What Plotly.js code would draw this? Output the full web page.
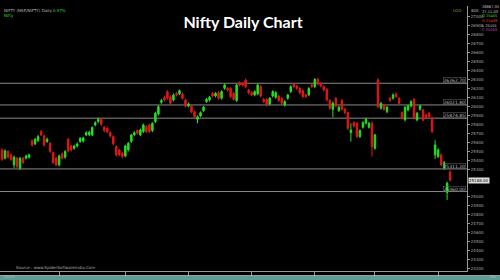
<!DOCTYPE html>
<html><head><meta charset="utf-8">
<script src="https://cdn.plot.ly/plotly-3.0.1.min.js"></script>
<style>html,body{margin:0;padding:0;background:#000}#chart{width:500px;height:280px}</style>
</head><body><div id="chart"></div>
<script>
const openP = [25522,25430,25504,25467,25356,25430,25319,25430,25430,25441,
25622,25589,25626,25726,25677,25615,25596,25492,25430,25356,
25478,25441,25640,25566,25541,25566,25615,25620,25689,25692,
25689,25800,25837,25862,25774,25763,25714,25670,25559,25522,
25485,25455,25522,25615,25689,25737,25689,25726,25781,25800,
25737,25837,25922,26051,26107,26170,26114,26077,26151,26144,
26144,26077,26010,26010,25947,25862,25899,25959,26059,26077,
26151,26121,26158,26096,26206,26206,26206,26151,26070,26269,
26262,26299,26188,26158,26133,26144,26225,26084,26084,26033,
26121,26107,26121,26096,26022,26096,26170,26255,26232,26206,
26181,26133,26133,26243,26225,26306,26262,26225,26195,26070,
25973,26096,25959,26070,25973,25936,25714,25825,25818,25670,
25774,25818,25774,25818,25541,26299,25985,26022,25947,26096,
26096,26144,26096,25936,25855,25966,26010,26084,25855,25973,
25966,25911,25929,25874,25467,25448,25467,25319,25049,25277];
const closeP = [25418,25511,25441,25418,25441,25337,25430,25381,25455,25467,
25578,25640,25670,25689,25578,25640,25504,25381,25356,25455,
25430,25504,25511,25522,25566,25589,25652,25655,25714,25718,
25770,25825,25862,25807,25737,25726,25677,25589,25467,25467,
25448,25566,25596,25689,25714,25707,25744,25800,25726,25726,
25818,25929,26003,26070,26077,26096,26040,26133,26133,26181,
26096,26010,26033,25947,25892,25892,25936,25996,26084,26107,
26121,26151,26096,26170,26243,26188,26114,26084,26243,26243,
26243,26225,26158,26133,26170,26243,26121,26059,26022,26096,
26170,26158,26070,26040,26059,26133,26225,26225,26206,26158,
26114,26114,26206,26225,26306,26255,26232,26188,26077,25985,
26040,26010,25996,25973,25936,25762,25744,25788,25670,25737,
25825,25862,25818,25559,25689,26003,26040,25973,25996,26070,
26133,26114,26040,25874,25996,26010,26059,25874,25929,26010,
25855,25885,25892,25726,25578,25522,25356,25381,25152,25188];
const highP = [25540,25530,25520,25485,25460,25445,25445,25445,25470,25480,
25640,25655,25690,25745,25695,25660,25610,25505,25445,25470,
25495,25520,25655,25580,25580,25605,25665,25670,25730,25735,
25785,25840,25880,25875,25790,25780,25730,25685,25575,25535,
25500,25580,25610,25700,25730,25750,25760,25815,25795,25815,
25830,25945,26020,26090,26125,26185,26130,26150,26165,26195,
26160,26090,26050,26025,25960,25905,25950,26010,26100,26120,
26165,26165,26175,26185,26260,26220,26220,26165,26255,26285,
26275,26315,26200,26175,26185,26260,26240,26100,26095,26110,
26185,26175,26135,26110,26075,26145,26240,26270,26245,26220,
26195,26145,26220,26255,26320,26325,26275,26240,26210,26085,
26060,26110,26010,26090,25990,25950,25818,25840,25835,25750,
25840,25880,25835,25840,25700,26320,26055,26035,26010,26110,
26150,26160,26110,25950,26010,26025,26075,26100,25945,26025,
25980,25925,25945,25890,25630,25540,25485,25400,25170,25295];
const lowP = [25400,25415,25425,25400,25319,25320,25300,25365,25415,25425,
25560,25575,25610,25675,25560,25600,25490,25365,25340,25340,
25415,25425,25495,25505,25525,25550,25600,25605,25675,25675,
25675,25785,25820,25790,25720,25710,25660,25575,25450,25450,
25430,25440,25505,25600,25675,25690,25675,25710,25710,25710,
25720,25820,25905,26035,26060,26080,26025,26060,26115,26130,
26080,25995,25995,25930,25875,25818,25885,25945,26045,26060,
26105,26105,26080,26080,26190,26170,26100,26070,26055,26225,
26228,26210,26140,26118,26118,26130,26105,26045,26005,26018,
26105,26090,26055,26025,26005,26080,26155,26210,26190,26140,
26100,26100,26118,26210,26210,26240,26218,26172,26060,25970,
25885,25995,25945,25958,25920,25745,25615,25770,25655,25655,
25760,25805,25760,25448,25525,25985,25970,25958,25930,26055,
26080,26100,26025,25860,25840,25950,25995,25860,25840,25958,
25840,25870,25878,25710,25420,25430,25340,25300,24967,25170];
const levels = [26262.70, 26021.80, 25874.85, 25311.20, 25060.00];
const levelLabels = ["26262.70", "26021.80", "25874.85", "25311.20", "25060.00"];
const xTickPos = [19, 41, 62, 83, 104, 124, 145];
const xTickText = ["", "", "", "", "", "", ""];
const titleText = "Nifty Daily Chart";
const sourceText = "Source : www.SpiderSoftwareIndia.Com";

const idx = openP.map((_, i) => i);
const last = closeP[closeP.length - 1];
const yTicks = [];
for (let v = 24200; v <= 27000; v += 100) { if (Math.abs(v - last) > 110) yTicks.push(v); }

const trace = {
  type: 'candlestick', x: idx, open: openP, high: highP, low: lowP, close: closeP,
  increasing: {line: {color: '#22e022', width: 1}, fillcolor: '#22e022'},
  decreasing: {line: {color: '#e01818', width: 1}, fillcolor: '#e01818'},
  whiskerwidth: 0, hoverinfo: 'none'
};
const shapes = levels.map(v => ({type: 'line', xref: 'paper', x0: 0, x1: 1, yref: 'y', y0: v, y1: v,
  line: {color: '#8a8a8a', width: 1}, layer: 'below'}));
shapes.push({type: 'rect', xref: 'paper', yref: 'paper', x0: -0.01, x1: 1.08, y0: -0.0175, y1: -0.0155,
  fillcolor: '#d0d0d0', line: {width: 0}});
shapes.push({type: 'rect', xref: 'paper', yref: 'paper', x0: -0.01, x1: 1.08, y0: -0.04, y1: -0.019,
  fillcolor: '#5a9e95', line: {width: 0}});
const smallFont = {size: 4, color: '#bbbbbb', family: 'DejaVu Sans'};
const annotations = levels.map((v, i) => ({xref: 'paper', x: 0.998, xanchor: 'right', y: v, yanchor: 'bottom',
  text: levelLabels[i], showarrow: false, font: {size: 4.5, color: '#bbbbbb', family: 'DejaVu Sans'},
  bordercolor: '#666', borderwidth: 0.5, borderpad: 0}));
annotations.push({xref: 'paper', x: 1.002, xanchor: 'left', y: last, yanchor: 'middle', text: last.toFixed(2),
  showarrow: false, font: {size: 4, color: '#000', family: 'DejaVu Sans'}, bgcolor: '#dddddd', borderpad: 0});
annotations.push({xref: 'paper', yref: 'paper', x: 0.03, y: -0.002, xanchor: 'left', yanchor: 'bottom',
  text: sourceText, showarrow: false, font: {size: 4, color: '#aaaaaa', family: 'DejaVu Sans'}});
annotations.push({xref: 'paper', yref: 'paper', x: 0.004, y: 1.0, xanchor: 'left', yanchor: 'top',
  text: 'NIFTY (NSE/NIFTY) Daily <span style="color:#33dd33">0.97%</span><br><span style="color:#33dd33">Nifty</span>',
  showarrow: false, align: 'left', font: smallFont});
annotations.push({xref: 'paper', yref: 'paper', x: 0.992, y: 1.0, xanchor: 'right', yanchor: 'top',
  text: '<span style="color:#9a9a40">LOG</span>', showarrow: false, font: smallFont});
annotations.push({xref: 'paper', yref: 'paper', x: 1.004, y: 1.0, xanchor: 'left', yanchor: 'top',
  text: '800', showarrow: false, font: smallFont});
annotations.push({xref: 'paper', yref: 'paper', x: 1.028, y: 1.01, xanchor: 'left', yanchor: 'top', align: 'left',
  text: '26867.35<br>27.11.03<br><span style="color:#33dd33">O 25405</span><br><span style="color:#ee3333">H 25436</span><br>L 25155<br><span style="color:#cc55cc">C 25203</span>',
  showarrow: false, font: {size: 3.6, color: '#cccccc', family: 'DejaVu Sans'}});
annotations.push({xref: 'paper', yref: 'paper', x: 0.004, y: -0.004, xanchor: 'left', yanchor: 'top',
  text: '2025', showarrow: false, font: smallFont});
annotations.push({xref: 'paper', yref: 'paper', x: 1.045, y: -0.004, xanchor: 'left', yanchor: 'top',
  text: 'Da', showarrow: false, font: smallFont});

const layout = {
  width: 500, height: 280, paper_bgcolor: '#000', plot_bgcolor: '#000',
  margin: {l: 0, r: 33, t: 6, b: 9},
  showlegend: false,
  title: {text: '<b>' + titleText + '</b>', font: {color: '#ffffff', size: 16, family: 'Lato'},
    x: 0.486, xref: 'container', xanchor: 'center', y: 0.92, yref: 'container', yanchor: 'middle'},
  xaxis: {range: [-0.67, 154.6], rangeslider: {visible: false}, showgrid: false, zeroline: false,
    tickvals: xTickPos, ticktext: xTickText, ticks: 'outside', ticklen: 4, tickcolor: '#999',
    showline: true, linecolor: '#999', linewidth: 1, fixedrange: true},
  yaxis: {side: 'right', range: [24177, 27121], tickvals: yTicks, showgrid: false, zeroline: false,
    ticks: 'outside', ticklen: 2, tickcolor: '#999', showline: true, linecolor: '#999', linewidth: 1,
    tickfont: {size: 4, color: '#aaaaaa', family: 'DejaVu Sans'}, tickformat: 'd', fixedrange: true},
  shapes: shapes, annotations: annotations
};
Plotly.newPlot('chart', [trace], layout, {staticPlot: true, displayModeBar: false});
</script></body></html>
